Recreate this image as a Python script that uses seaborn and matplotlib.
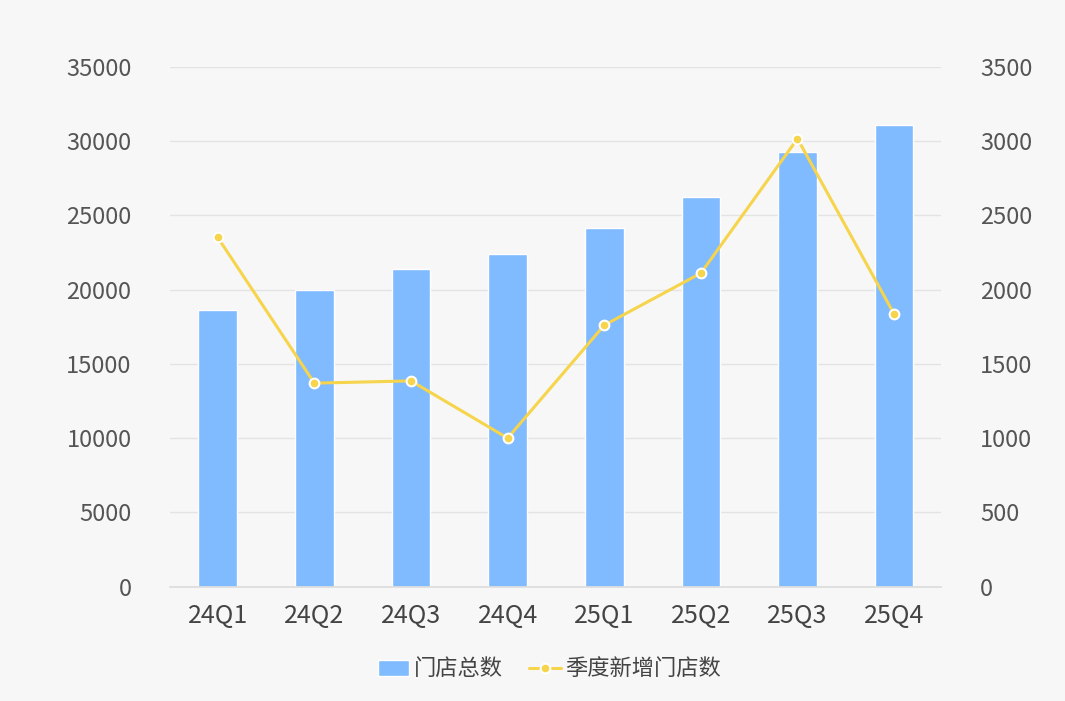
import matplotlib
matplotlib.use("Agg")
import matplotlib.pyplot as plt
import seaborn as sns
import pandas as pd

quarters = ["24Q1", "24Q2", "24Q3", "24Q4", "25Q1", "25Q2", "25Q3", "25Q4"]
total_stores = [18640, 19990, 21400, 22410, 24160, 26250, 29280, 31100]
new_stores = [2350, 1370, 1385, 1000, 1760, 2110, 3015, 1835]

df = pd.DataFrame({"q": quarters, "total": total_stores, "new": new_stores})

sns.set_theme(style="white")
plt.rcParams['font.family'] = ['Noto Sans CJK SC', 'DejaVu Sans']

bg = "#f7f7f7"
fig = plt.figure(figsize=(10.65, 7.01), dpi=100, facecolor=bg)
ax = fig.add_axes([0.16, 0.163, 0.724, 0.742], facecolor=bg)

sns.barplot(data=df, x="q", y="total", color="#80baff", saturation=1, width=0.4, ax=ax,
            label="门店总数", legend=False, zorder=2)
ax.set_ylim(0, 35000)
ax.set_yticks(range(0, 35001, 5000))
ax.grid(axis="y", color="#e3e3e3", linewidth=1, zorder=0)
ax.set_axisbelow(True)

ax2 = ax.twinx()
sns.lineplot(data=df, x="q", y="new", color="#f6d44c", linewidth=2.2, marker="o",
             markersize=7, markerfacecolor="#f6d44c", markeredgecolor="white",
             markeredgewidth=1.5, ax=ax2, label="季度新增门店数", legend=False, sort=False)
ax2.set_ylim(0, 3500)
ax2.set_yticks(range(0, 3501, 500))

for a in (ax, ax2):
    for s in a.spines.values():
        s.set_visible(False)
    a.set_xlabel("")
    a.set_ylabel("")
    a.tick_params(axis="y", labelsize=17, labelcolor="#555555", length=0, pad=28)
ax.tick_params(axis="x", labelsize=18, labelcolor="#444444", length=0, pad=12)
ax.spines["bottom"].set_visible(True)
ax.spines["bottom"].set_color("#dddddd")
ax.set_xlim(-0.49, 7.49)
if ax.get_legend() is not None:
    ax.get_legend().remove()

h1, l1 = ax.get_legend_handles_labels()
h2, l2 = ax2.get_legend_handles_labels()
fig.legend(h1 + h2, l1 + l2, loc="lower center", bbox_to_anchor=(0.516, 0.0), ncol=2,
           frameon=False, fontsize=16, handlelength=1.4, handletextpad=0.2,
           columnspacing=1.2, labelcolor="#444444")

fig.savefig("out.png", dpi=100, facecolor=bg)
